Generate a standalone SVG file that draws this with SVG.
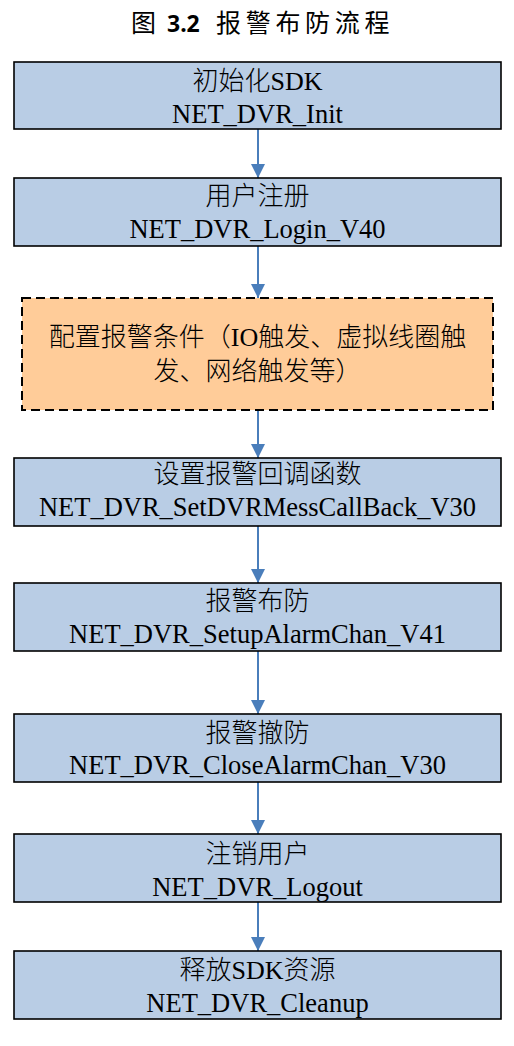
<svg xmlns="http://www.w3.org/2000/svg" width="514" height="1046" viewBox="0 0 514 1046">
<style>
.box{fill:#B9CDE5;stroke:#000;stroke-width:1.6}
.dash{fill:#FFCC99;stroke:#000;stroke-width:2;stroke-dasharray:9 5}
.t{font-family:"Liberation Serif","Noto Sans CJK SC",serif;font-size:26.5px;fill:#000;text-anchor:middle}
.cn{font-family:"Liberation Serif","Noto Sans CJK SC",serif;font-size:26px;font-weight:300;fill:#000;text-anchor:middle}
.conn{stroke:#4A7EBB;stroke-width:2;fill:none;marker-end:url(#ah)}
.title{font-family:"Noto Sans CJK SC",sans-serif;font-size:25px;font-weight:400;fill:#000}
.num{font-family:"Noto Sans","Liberation Sans",sans-serif;font-weight:bold;font-size:23px}
</style>
<defs>
<marker id="ah" markerUnits="userSpaceOnUse" markerWidth="14" markerHeight="14" refX="14" refY="7" orient="auto" viewBox="0 0 14 14">
<path d="M0,0 L14,7 L0,14 z" fill="#4A7EBB"/>
</marker>
</defs>
<g id="title">
<text class="title" y="32"><tspan x="131">图</tspan><tspan class="num" x="167">3.2</tspan><tspan x="216" letter-spacing="4.7">报警布防流程</tspan></text>
</g>
<g id="connectors">
<line class="conn" x1="258" y1="129" x2="258" y2="178"/>
<line class="conn" x1="258" y1="246" x2="258" y2="298"/>
<line class="conn" x1="258" y1="410" x2="258" y2="458"/>
<line class="conn" x1="258" y1="526" x2="258" y2="583"/>
<line class="conn" x1="258" y1="651" x2="258" y2="714"/>
<line class="conn" x1="258" y1="782" x2="258" y2="834"/>
<line class="conn" x1="258" y1="902" x2="258" y2="951"/>
</g>
<g id="n1">
<rect class="box" x="14" y="62" width="487" height="67"/>
<text class="cn" x="257.5" y="90">初始化SDK</text>
<text class="t" x="257.5" y="123">NET_DVR_Init</text>
</g>
<g id="n2">
<rect class="box" x="14" y="178" width="487" height="68"/>
<text class="cn" x="257.5" y="205">用户注册</text>
<text class="t" x="257.5" y="238">NET_DVR_Login_V40</text>
</g>
<g id="n3">
<rect class="dash" x="22" y="298" width="471" height="112"/>
<text class="cn" x="257.5" y="346">配置报警条件（IO触发、虚拟线圈触</text>
<text class="cn" x="257.5" y="380">发、网络触发等）</text>
</g>
<g id="n4">
<rect class="box" x="14" y="458" width="487" height="68"/>
<text class="cn" x="257.5" y="483">设置报警回调函数</text>
<text class="t" x="257.5" y="516">NET_DVR_SetDVRMessCallBack_V30</text>
</g>
<g id="n5">
<rect class="box" x="14" y="583" width="487" height="68"/>
<text class="cn" x="257.5" y="610">报警布防</text>
<text class="t" x="257.5" y="643">NET_DVR_SetupAlarmChan_V41</text>
</g>
<g id="n6">
<rect class="box" x="14" y="714" width="487" height="68"/>
<text class="cn" x="257.5" y="742">报警撤防</text>
<text class="t" x="257.5" y="774">NET_DVR_CloseAlarmChan_V30</text>
</g>
<g id="n7">
<rect class="box" x="14" y="834" width="487" height="68"/>
<text class="cn" x="257.5" y="863">注销用户</text>
<text class="t" x="257.5" y="896">NET_DVR_Logout</text>
</g>
<g id="n8">
<rect class="box" x="14" y="951" width="487" height="68"/>
<text class="cn" x="257.5" y="979">释放SDK资源</text>
<text class="t" x="257.5" y="1012">NET_DVR_Cleanup</text>
</g>
</svg>
